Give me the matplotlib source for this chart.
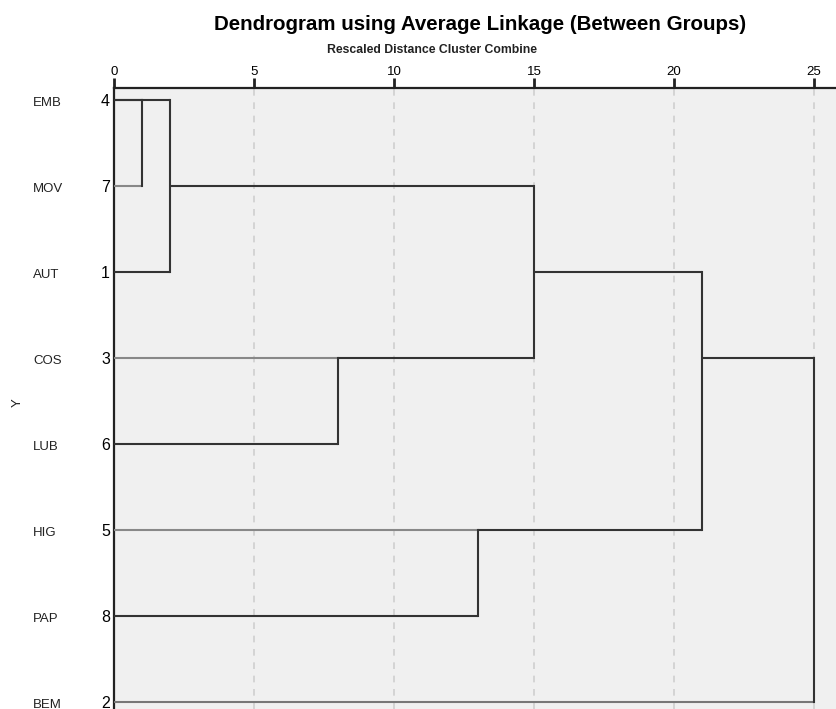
import numpy as np
import matplotlib.pyplot as plt

plt.rcParams['font.family'] = ['Liberation Sans', 'DejaVu Sans']

# leaves, top to bottom
names = ['EMB', 'MOV', 'AUT', 'COS', 'LUB', 'HIG', 'PAP', 'BEM']
case_ids = ['4', '7', '1', '3', '6', '5', '8', '2']
leaf_colors = ['#333333', '#888888', '#333333', '#888888',
               '#333333', '#888888', '#333333', '#777777']

# merges: (row of first cluster, row of second cluster, distance, row of new cluster)
merge_a = [0, 0, 3, 1, 5, 2, 3]
merge_b = [1, 2, 4, 3, 6, 5, 7]
merge_dist = [1, 2, 8, 15, 13, 21, 25]
merge_row = [0, 1, 3, 2, 5, 3, None]

W, H = 836, 709
fig = plt.figure(figsize=(W / 100, H / 100), dpi=100)
ax = fig.add_axes([114 / W, 0, 1 - 114 / W, 1 - 88 / H])
ax.set_facecolor('#f0f0f0')

ax.set_xlim(0, (W - 114) / 28)
ax.set_ylim((H - 100) / 86, -12 / 86)

for v in [5, 10, 15, 20, 25]:
    ax.axvline(v, color='#cfcfcf', lw=1.2, ls=(0, (4, 4)), zorder=1)

# current height of each row's line (0 for leaves)
height = {i: 0 for i in range(len(names))}
for a, b, d, r in zip(merge_a, merge_b, merge_dist, merge_row):
    for row in (a, b):
        col = leaf_colors[row] if height[row] == 0 else '#333333'
        ax.plot([height[row], d], [row, row], color=col, lw=1.5,
                solid_capstyle='butt', zorder=3)
    ax.plot([d, d], [a, b], color='#333333', lw=1.5, zorder=3)
    if r is not None:
        height[r] = d
ax.plot([0, merge_dist[0]], [0, 0], color='#333333', lw=1.5, zorder=3)

ax.xaxis.tick_top()
ax.set_xticks([0, 5, 10, 15, 20, 25])
ax.tick_params(axis='x', direction='out', length=7.5, width=2,
               color='#222222', labelsize=9.5, pad=0)
ax.set_yticks(range(len(names)))
ax.set_yticklabels(case_ids, fontsize=11.5)
ax.tick_params(axis='y', length=0, pad=3)

for s in ['right', 'bottom']:
    ax.spines[s].set_visible(False)
ax.spines['top'].set_linewidth(1.6)
ax.spines['left'].set_linewidth(1.6)
ax.spines['top'].set_color('#222222')
ax.spines['left'].set_color('#222222')

for i, n in enumerate(names):
    ax.text(33 / W, 1 - (100 + 86 * i + 3) / H, n, transform=fig.transFigure,
            fontsize=9.5, va='center', ha='left', color='#222222')

fig.text(18 / W, 1 - 403 / H, 'Y', rotation=90, fontsize=9.5,
         va='center', ha='center', color='#222222')
fig.text(480 / W, 1 - 25 / H, 'Dendrogram using Average Linkage (Between Groups)',
         fontsize=14.8, fontweight='bold', ha='center', va='center')
fig.text(432 / W, 1 - 50 / H, 'Rescaled Distance Cluster Combine',
         fontsize=8.8, fontweight='bold', ha='center', va='center',
         color='#222222')

fig.savefig('out.png', dpi=100)
